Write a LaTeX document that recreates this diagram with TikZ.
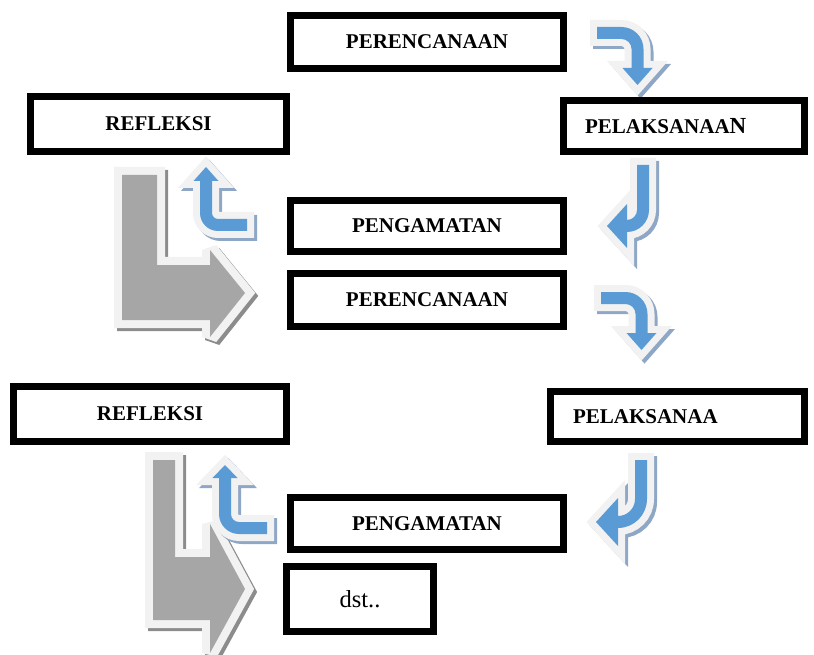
\documentclass[tikz,border=0pt]{standalone}
\usepackage{fontspec}
\setmainfont{Liberation Serif}
\definecolor{bluecore}{HTML}{5B9BD5}
\definecolor{blueshadow}{HTML}{8FA7C6}
\definecolor{outl}{HTML}{F2F2F2}
\definecolor{graycore}{HTML}{A6A6A6}
\definecolor{grayshadow}{HTML}{8C8C8C}
\def\hw{6}
% right-then-down arrow: leftx, hy, vx, r, ybase, hh, depth
\newcommand\RDpath[7]{(#1,{#2-\hw}) -- ({#3-#4},{#2-\hw}) arc[start angle=-90,end angle=0,radius={#4+\hw}] -- ({#3+\hw},#5) -- ({#3+#6},#5) -- (#3,{#5+#7}) -- ({#3-#6},#5) -- ({#3-\hw},#5) -- ({#3-\hw},{#2+#4}) arc[start angle=0,end angle=-90,radius={#4-\hw}] -- (#1,{#2+\hw}) -- cycle}
% down-then-left J arrow: vx, ytop, ybend, r, hh, depth
\newcommand\Jpath[6]{({#1-\hw},#2) -- ({#1+\hw},#2) -- ({#1+\hw},#3) arc[start angle=0,end angle=90,radius={#4+\hw}] -- ({#1-#4},{#3+#4+#5}) -- ({#1-#4-#6},{#3+#4}) -- ({#1-#4},{#3+#4-#5}) -- ({#1-#4},{#3+#4-\hw}) arc[start angle=90,end angle=0,radius={#4-\hw}] -- cycle}
% left-then-up arrow: rightx, hy, vx, r, ybase, hh, depth
\newcommand\Upath[7]{(#1,{#2-\hw}) -- ({#3+#4},{#2-\hw}) arc[start angle=90,end angle=180,radius={#4-\hw}] -- ({#3+\hw},#5) -- ({#3+#6},#5) -- (#3,{#5-#7}) -- ({#3-#6},#5) -- ({#3-\hw},#5) -- ({#3-\hw},{#2-#4}) arc[start angle=180,end angle=90,radius={#4+\hw}] -- (#1,{#2+\hw}) -- cycle}
\newcommand\blueArrow[1]{%
  \path[draw=blueshadow,fill=blueshadow,line width=14pt,line join=miter,shift={(3,3)}] #1;
  \path[draw=outl,fill=outl,line width=14pt,line join=miter] #1;
  \path[fill=bluecore] #1;}
\newcommand\grayArrow[1]{%
  \path[draw=grayshadow,fill=grayshadow,line width=16pt,line join=miter,miter limit=2,shift={(3,3)}] #1;
  \path[draw=outl,fill=outl,line width=16pt,line join=miter,miter limit=2] #1;
  \path[fill=graycore] #1;}
\tikzset{
  boxst/.style={draw, line width=7pt, inner sep=0pt, fill=white,
    font=\bfseries\fontsize{21}{24}\selectfont},
}
\begin{document}
\begin{tikzpicture}[x=1pt,y=-1pt]
\path[use as bounding box] (0,0) rectangle (814,655);
% gray L arrows
\grayArrow{(122,175) -- (157,175) -- (157,265) -- (210,265) -- (210,250) -- (245,293) -- (210,337) -- (210,320) -- (122,320) -- cycle}
\grayArrow{(153,460) -- (175,460) -- (175,557) -- (210,557) -- (210,524) -- (245,589) -- (210,653) -- (210,620) -- (153,620) -- cycle}
% blue arrows
\blueArrow{\RDpath{597}{33}{637.5}{16}{68}{15}{17}}
\blueArrow{\RDpath{601}{298}{641.5}{16}{333}{15}{17}}
\blueArrow{\Jpath{643}{165}{210}{16}{22}{20}}
\blueArrow{\Jpath{641}{460}{499}{23}{24}{22}}
\blueArrow{\Upath{247}{225}{206}{12}{181}{12.5}{14}}
\blueArrow{\Upath{267}{528}{225}{14}{478}{12.5}{13}}
% boxes
\node[boxst, minimum width=273pt, minimum height=53pt] (p1) at (427,42) {PERENCANAAN};
\node[boxst, minimum width=256pt, minimum height=55pt] (r1) at (158.5,124) {REFLEKSI};
\node[boxst, minimum height=51pt, text width=198pt, inner xsep=21.5pt, align=left] (l1) at (684,126) {PELAKSANAA{\fontsize{23}{24}\selectfont N}};
\node[boxst, minimum width=273pt, minimum height=51pt] (g1) at (427,226) {PENGAMATAN};
\node[boxst, minimum width=273pt, minimum height=53pt] (p2) at (427,300) {PERENCANAAN};
\node[boxst, minimum width=273pt, minimum height=55pt] (r2) at (150,414) {REFLEKSI};
\node[boxst, minimum height=50pt, text width=209pt, inner xsep=22.5pt, align=left] (l2) at (677.5,416.5) {PELAKSANAA};
\node[boxst, minimum width=273pt, minimum height=52pt] (g2) at (427,523.5) {PENGAMATAN};
\node[boxst, font=\fontsize{24.5}{28}\selectfont, minimum width=147pt, minimum height=65pt] (d) at (360,599) {dst..};
\end{tikzpicture}
\end{document}
